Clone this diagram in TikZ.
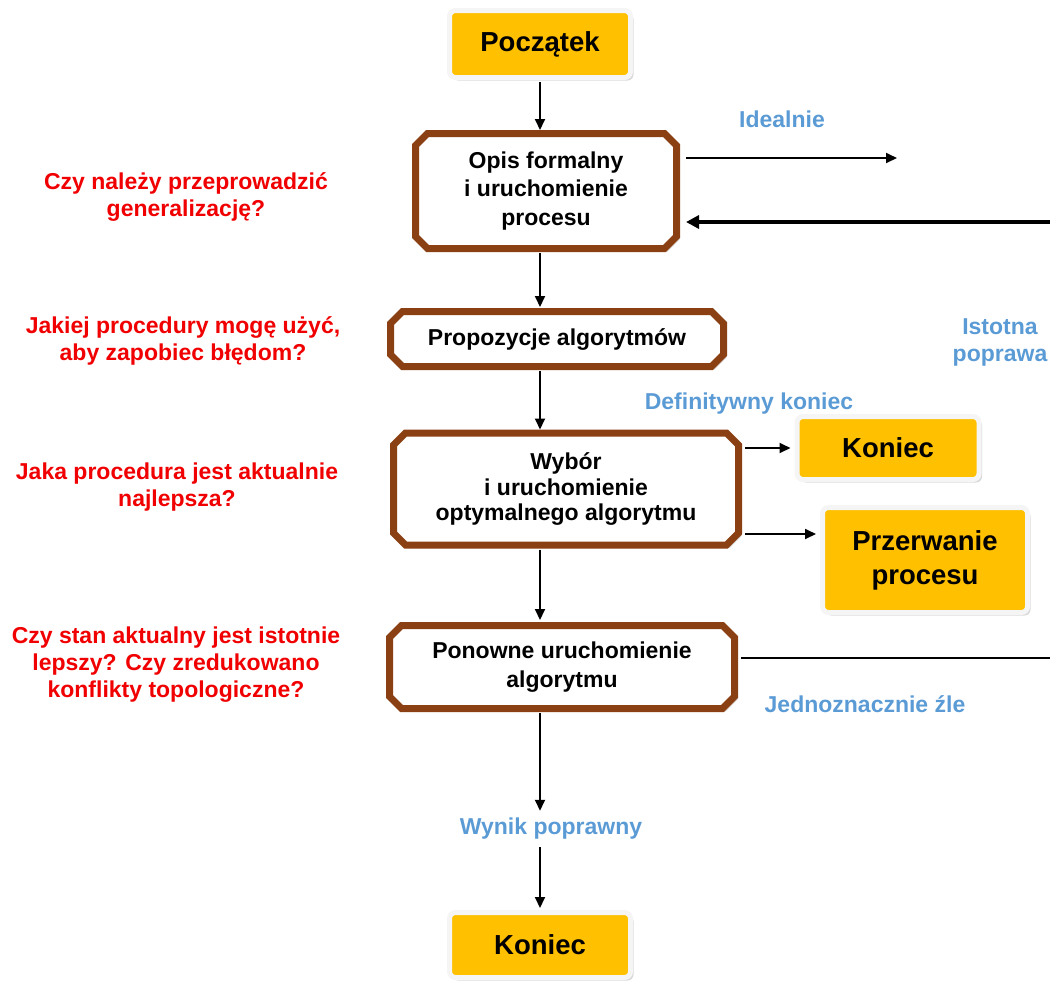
\documentclass[tikz,border=0pt]{standalone}
\usepackage{fontspec}
\setmainfont{Liberation Sans}
\usetikzlibrary{shapes.misc,shadows,arrows.meta}
\definecolor{brn}{RGB}{139,64,19}
\definecolor{ylw}{RGB}{255,192,0}
\definecolor{lblue}{RGB}{91,155,213}
\definecolor{qred}{RGB}{240,0,0}
\tikzset{
  procbox/.style={chamfered rectangle, chamfered rectangle xsep=6pt, chamfered rectangle ysep=6pt, draw=brn, line width=7pt, fill=white, align=center, font=\bfseries\fontsize{23}{28.5}\selectfont, inner sep=0pt, drop shadow={shadow xshift=3pt, shadow yshift=-3pt, fill=gray!60}},
  endbox/.style={rectangle, rounded corners=6pt, draw=gray!8, line width=5pt, fill=ylw, align=center, inner sep=0pt, font=\bfseries\fontsize{27.5}{34}\selectfont, drop shadow={shadow xshift=3pt, shadow yshift=-3pt, fill=gray!60}},
  question/.style={text=qred, align=center, font=\bfseries\fontsize{23}{27}\selectfont},
  note/.style={text=lblue, font=\bfseries\fontsize{23}{27}\selectfont, align=center},
  arr/.style={-{Triangle[length=11pt,width=10pt]}, line width=1.8pt},
  thickarr/.style={-{Triangle[length=13pt,width=13pt]}, line width=4pt},
}
\begin{document}
\begin{tikzpicture}[x=1pt,y=-1pt]
\useasboundingbox (0,0) rectangle (1050,986);
% end boxes
\node[endbox, minimum width=181pt, minimum height=67pt] (start) at (540,44) {Początek};
\node[endbox, minimum width=182pt, minimum height=63pt] (end1) at (888,448) {Koniec};
\node[endbox, minimum width=205pt, minimum height=105pt] (abort) at (925,560) {Przerwanie\\procesu};
\node[endbox, minimum width=181pt, minimum height=65pt] (end2) at (540,945) {Koniec};
% process boxes
\node[procbox, minimum width=261pt, minimum height=115pt] (opis) at (546,191) {Opis formalny\\i uruchomienie\\procesu};
\node[procbox, minimum width=333pt, minimum height=55pt] (prop) at (557,339) {Propozycje algorytmów};
\node[procbox, minimum width=345pt, minimum height=112pt, font=\bfseries\fontsize{23}{25.5}\selectfont] (wyb) at (566,489) {Wybór\\i uruchomienie\\optymalnego algorytmu};
\node[procbox, minimum width=345pt, minimum height=83pt] (pon) at (562,667) {Ponowne uruchomienie\\algorytmu};
% questions
\node[question] (q1) at (186,197) {Czy należy przeprowadzić\\generalizację?};
\node[question] (q2) at (183,341) {Jakiej procedury mogę użyć,\\aby zapobiec błędom?};
\node[question] (q3) at (177,487) {Jaka procedura jest aktualnie\\najlepsza?};
\node[question] (q4) at (176,665) {Czy stan aktualny jest istotnie\\lepszy? Czy zredukowano\\konflikty topologiczne?};
% notes
\node[note] (ideal) at (782,119) {Idealnie};
\node[note] (istot) at (1000,342) {Istotna\\poprawa};
\node[note] (defk) at (749,404) {Definitywny koniec};
\node[note] (jedn) at (865,704) {Jednoznacznie źle};
\node[note] (wynik) at (551,829) {Wynik poprawny};
% coordinates
\coordinate (idealEnd) at (897,158);
\coordinate (fb) at (1050,222);
\coordinate (badEnd) at (1050,658);
% connectors
\draw[arr, shorten <=2pt] (start.south) -- (start.south |- opis.north);
\draw[arr, shorten <=1pt, shorten >=1pt] (start |- opis.south) -- (start |- prop.north);
\draw[arr, shorten <=1pt] (start |- prop.south) -- (start |- wyb.north);
\draw[arr, shorten <=1pt, shorten >=2pt] (start |- wyb.south) -- (start |- pon.north);
\draw[arr, shorten <=1pt, shorten >=4pt] (start |- pon.south) -- (start |- wynik.north);
\draw[arr, shorten <=4pt, shorten >=2pt] (start |- wynik.south) -- (end2.north);
\draw[arr, shorten <=6pt] (opis.east |- idealEnd) -- (idealEnd);
\draw[thickarr, shorten >=6pt] (fb) -- (opis.east |- fb);
\draw[arr, shorten <=3pt, shorten >=4pt] (wyb.east |- end1.west) -- (end1.west);
\draw[arr, shorten <=3pt, shorten >=4pt] (wyb.east |- 0,534) -- (abort.west |- 0,534);
\draw[line width=1.8pt, shorten <=3pt] (pon.east |- badEnd) -- (badEnd);
\end{tikzpicture}
\end{document}
